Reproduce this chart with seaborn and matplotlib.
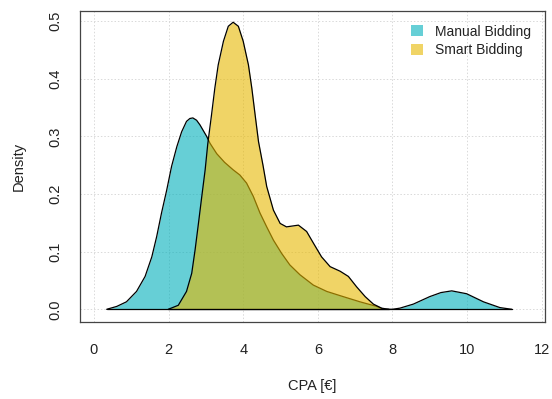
import numpy as np
import pandas as pd
import matplotlib
matplotlib.use("Agg")
import matplotlib.pyplot as plt
from matplotlib.patches import Patch
import seaborn as sns

# density curves
manual_x = [0.34, 0.61, 0.87, 1.14, 1.37, 1.55, 1.68, 1.81, 1.95, 2.08, 2.22, 2.35, 2.48, 2.57, 2.65,
            2.75, 2.84, 3.02, 3.11, 3.29, 3.5, 3.73, 3.91, 4.09, 4.27, 4.45, 4.63, 4.81, 5.03, 5.25,
            5.52, 5.88, 6.24, 6.68, 7.13, 7.58, 7.76,
            8.0, 8.2, 8.56, 9.0, 9.3, 9.59, 9.99, 10.44, 10.88, 11.2]
manual_y = [0.0, 0.005, 0.013, 0.031, 0.057, 0.091, 0.126, 0.167, 0.207, 0.248, 0.282, 0.308, 0.326, 0.331, 0.332,
            0.328, 0.320, 0.300, 0.288, 0.270, 0.255, 0.242, 0.233, 0.219, 0.196, 0.167, 0.143, 0.120, 0.097, 0.077,
            0.060, 0.042, 0.031, 0.022, 0.013, 0.005, 0.0,
            0.0, 0.002, 0.009, 0.022, 0.029, 0.032, 0.027, 0.013, 0.003, 0.0]

smart_x = [1.99, 2.26, 2.48, 2.62, 2.71, 2.80, 2.89, 2.98, 3.05, 3.15, 3.24, 3.33, 3.47, 3.60,
           3.73, 3.87, 4.00, 4.14, 4.23, 4.32, 4.41, 4.53, 4.63, 4.81, 4.99, 5.16, 5.48, 5.70,
           5.88, 6.10, 6.33, 6.60, 6.82, 7.04, 7.27, 7.49, 7.71, 7.9]
smart_y = [0.0, 0.007, 0.031, 0.0625, 0.103, 0.149, 0.196, 0.242, 0.287, 0.337, 0.384, 0.424, 0.465, 0.491,
           0.498, 0.491, 0.465, 0.424, 0.384, 0.337, 0.291, 0.250, 0.213, 0.172, 0.149, 0.143, 0.146, 0.135,
           0.115, 0.091, 0.074, 0.066, 0.057, 0.039, 0.022, 0.009, 0.002, 0.0]

labels = ["Manual Bidding", "Smart Bidding"]
colors = ["#00AFBB", "#E7B800"]
x_ticks = [0, 2, 4, 6, 8, 10, 12]
y_ticks = [0.0, 0.1, 0.2, 0.3, 0.4, 0.5]

sns.set_style("white")
plt.rcParams['font.family'] = ['Liberation Sans', 'DejaVu Sans']

fig = plt.figure(figsize=(5.52, 3.99), dpi=100)
ax = fig.add_axes([80/552, 1 - 321.7/399, 465/552, 311/399])

ax.set_xlim(-0.375, 12.09)
ax.set_ylim(-0.0215, 0.518)

# dotted grid at the ticks
for xv in x_ticks:
    ax.axvline(xv, color="#d9d9d9", lw=0.7, ls=(0, (1.5, 2)), zorder=0)
for yv in y_ticks:
    ax.axhline(yv, color="#d9d9d9", lw=0.7, ls=(0, (1.5, 2)), zorder=0)

# each polygon drawn in turn, so the second fill covers the first outline
curves = [(manual_x, manual_y), (smart_x, smart_y)]
for i, ((xs, ys), col) in enumerate(zip(curves, colors)):
    z = 2 + 2 * i
    df = pd.DataFrame({"x": xs, "y": ys})
    ax.fill_between(df["x"], 0, df["y"], color=col, alpha=0.6, lw=0, zorder=z)
    sns.lineplot(data=df, x="x", y="y", color="black", lw=0.9, ax=ax, zorder=z + 1)
    ax.plot([xs[0], xs[-1]], [0, 0], color="black", lw=0.9, zorder=z + 1)

ax.set_xticks(x_ticks)
ax.set_yticks(y_ticks)
ax.set_xticklabels([str(v) for v in x_ticks], fontsize=10.5, color="#222222")
ax.set_yticklabels([f"{v:.1f}" for v in y_ticks], fontsize=10.5, color="#222222",
                   rotation=90, va="center")
ax.tick_params(axis="both", direction="out", length=6, width=0.9, color="#444444")
ax.tick_params(axis="x", pad=9)
ax.tick_params(axis="y", pad=7)

for sp in ax.spines.values():
    sp.set_color("#444444")
    sp.set_linewidth(0.9)

ax.set_xlabel("CPA [€]", fontsize=10.5, color="#222222", va="center")
ax.set_ylabel("Density", fontsize=10.5, color="#222222", va="center")
ax.xaxis.set_label_coords(0.5, -0.206)
ax.yaxis.set_label_coords(-0.131, 0.5)

handles = [Patch(facecolor=c, alpha=0.6, edgecolor="none") for c in colors]
ax.legend(handles, labels, loc="upper right", bbox_to_anchor=(1.0, 1.0), frameon=False,
          fontsize=10, handlelength=0.85, handleheight=0.85, handletextpad=0.9,
          labelspacing=0.35, borderaxespad=0.6, labelcolor="#222222")

fig.savefig("out.png", dpi=100)
